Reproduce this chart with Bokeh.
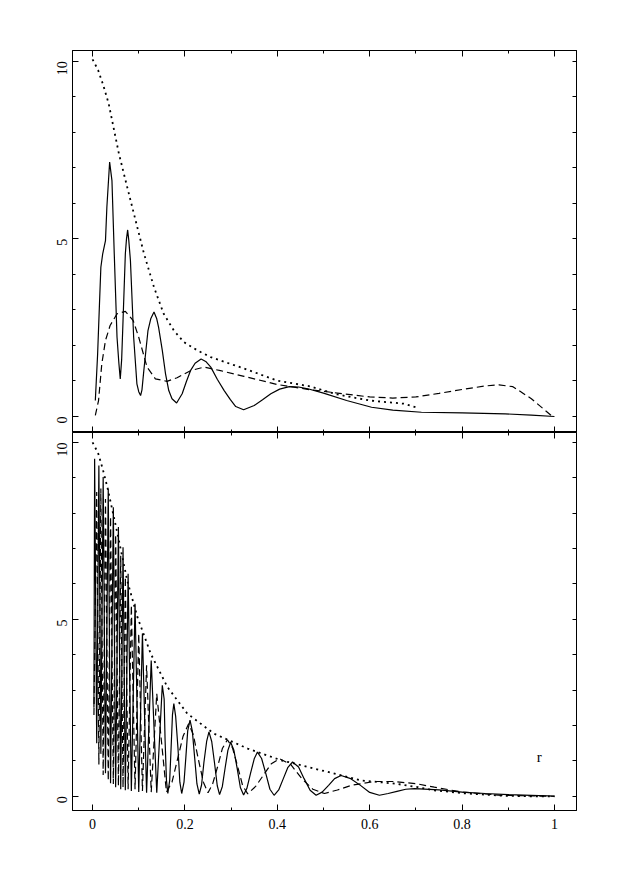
import math
from bokeh.plotting import figure
from bokeh.layouts import column
from bokeh.models import Range1d, LinearAxis, FixedTicker, Label
from bokeh.embed import file_html
from bokeh.resources import INLINE

# ---------------- data: top panel ----------------
top_solid_r = [0.006, 0.011, 0.015, 0.018, 0.022, 0.028, 0.031, 0.037, 0.042, 0.047,
               0.053, 0.057, 0.060, 0.063, 0.066, 0.071, 0.0735, 0.076, 0.0785, 0.082,
               0.089, 0.096, 0.100, 0.104, 0.107, 0.111, 0.120, 0.126, 0.133, 0.139,
               0.143, 0.151, 0.158, 0.165, 0.172, 0.182, 0.194, 0.203, 0.212, 0.222,
               0.235, 0.245, 0.256, 0.270, 0.285, 0.298, 0.310, 0.327, 0.350, 0.368,
               0.386, 0.405, 0.426, 0.446, 0.466, 0.500, 0.550, 0.604, 0.650, 0.712,
               0.800, 0.893, 0.950, 1.000]
top_solid_v = [0.45, 1.76, 3.17, 4.20, 4.58, 4.95, 5.89, 7.16, 6.64, 4.58,
               2.23, 1.50, 1.06, 1.60, 2.70, 4.58, 5.00, 5.25, 4.95, 4.39,
               2.23, 0.92, 0.70, 0.59, 0.75, 1.29, 2.42, 2.75, 2.94, 2.75,
               2.51, 1.86, 1.20, 0.73, 0.50, 0.38, 0.64, 0.98, 1.29, 1.50,
               1.62, 1.55, 1.39, 1.05, 0.73, 0.48, 0.28, 0.19, 0.31, 0.47,
               0.64, 0.77, 0.84, 0.83, 0.78, 0.66, 0.45, 0.26, 0.18, 0.12,
               0.10, 0.075, 0.04, 0.0]

top_dashed_r = [0.006, 0.013, 0.020, 0.028, 0.038, 0.053, 0.071, 0.088, 0.100, 0.118,
                0.136, 0.161, 0.183, 0.212, 0.241, 0.277, 0.328, 0.400, 0.473, 0.530,
                0.600, 0.650, 0.700, 0.750, 0.800, 0.850, 0.880, 0.910, 0.950, 0.993]
top_dashed_v = [0.03, 0.45, 1.48, 2.14, 2.56, 2.89, 2.96, 2.70, 2.23, 1.39,
                1.06, 0.99, 1.09, 1.29, 1.39, 1.29, 1.13, 0.90, 0.75, 0.66,
                0.55, 0.52, 0.55, 0.65, 0.76, 0.86, 0.89, 0.84, 0.50, 0.03]

top_dotted_r = [0.0, 0.012, 0.023, 0.035, 0.057, 0.078, 0.111, 0.133, 0.154, 0.176,
                0.198, 0.227, 0.256, 0.328, 0.400, 0.470, 0.530, 0.600, 0.674, 0.700]
top_dotted_v = [10.05, 9.75, 9.33, 8.80, 7.40, 6.30, 4.60, 3.64, 2.89, 2.42,
                2.09, 1.86, 1.67, 1.35, 1.01, 0.85, 0.62, 0.45, 0.36, 0.26]

# ---------------- data: bottom panel ----------------
bot_solid_r = [0.003, 0.0045, 0.009, 0.0137, 0.018, 0.023, 0.028, 0.034, 0.039, 0.045,
               0.050, 0.056, 0.061, 0.066, 0.071, 0.077, 0.084, 0.092, 0.100, 0.108,
               0.117, 0.127, 0.139, 0.151, 0.155, 0.157, 0.160, 0.163, 0.167, 0.170,
               0.173, 0.176, 0.180, 0.185, 0.189, 0.193, 0.198, 0.202, 0.206, 0.211,
               0.216, 0.221, 0.226, 0.231, 0.236, 0.241, 0.247, 0.252, 0.258, 0.264,
               0.270, 0.275, 0.281, 0.287, 0.293, 0.299, 0.306, 0.313, 0.320, 0.327,
               0.334, 0.342, 0.350, 0.357, 0.366, 0.375, 0.384, 0.393, 0.403, 0.413,
               0.423, 0.433, 0.446, 0.458, 0.471, 0.484, 0.497, 0.511, 0.524, 0.538,
               0.559, 0.580, 0.600, 0.621, 0.640, 0.659, 0.678, 0.697, 0.750, 0.800,
               0.850, 0.900, 0.950, 1.000]
bot_solid_v = [2.5, 9.54, 1.5, 9.35, 1.2, 9.02, 0.65, 8.69, 0.37, 8.17,
               0.26, 7.61, 0.2, 7.04, 0.17, 6.29, 0.15, 5.44, 0.12, 4.60,
               0.10, 3.84, 0.10, 3.14, 2.75, 1.6, 0.45, 0.08, 0.45, 1.35,
               2.3, 2.62, 2.25, 1.35, 0.40, 0.08, 0.40, 1.10, 1.85, 2.15,
               1.85, 1.10, 0.35, 0.06, 0.32, 0.95, 1.55, 1.82, 1.55, 0.95,
               0.30, 0.05, 0.28, 0.80, 1.30, 1.53, 1.30, 0.80, 0.25, 0.04,
               0.22, 0.65, 1.06, 1.25, 1.07, 0.65, 0.20, 0.03, 0.18, 0.50,
               0.82, 0.97, 0.83, 0.50, 0.17, 0.03, 0.12, 0.31, 0.50, 0.59,
               0.50, 0.31, 0.11, 0.03, 0.08, 0.14, 0.20, 0.22, 0.18, 0.12,
               0.08, 0.05, 0.03, 0.01]

bot_dashed_r = [0.003, 0.009, 0.0137, 0.018, 0.023, 0.028, 0.034, 0.039, 0.045, 0.050,
                0.056, 0.061, 0.066, 0.071, 0.077, 0.084, 0.092, 0.100, 0.108, 0.117,
                0.127, 0.139, 0.160, 0.172, 0.184, 0.196, 0.208, 0.218, 0.229, 0.240,
                0.250, 0.260, 0.271, 0.281, 0.292, 0.303, 0.314, 0.325, 0.336, 0.353,
                0.370, 0.387, 0.405, 0.429, 0.453, 0.477, 0.502, 0.530, 0.560, 0.610,
                0.650, 0.700, 0.740, 0.800, 0.885, 1.000]
bot_dashed_v = [2.3, 8.6, 0.9, 8.7, 0.6, 8.4, 0.45, 7.9, 0.35, 7.4,
                0.30, 6.8, 0.25, 6.2, 0.20, 5.4, 0.20, 4.6, 0.15, 3.7,
                0.12, 2.9, 0.12, 0.40, 1.05, 1.70, 2.05, 1.75, 1.05, 0.40,
                0.10, 0.35, 0.85, 1.35, 1.60, 1.37, 0.85, 0.30, 0.07, 0.28,
                0.60, 0.92, 1.06, 0.90, 0.50, 0.20, 0.08, 0.18, 0.31, 0.42,
                0.42, 0.36, 0.26, 0.12, 0.03, 0.0]

bot_dotted_r = [0.0, 0.012, 0.022, 0.032, 0.054, 0.075, 0.097, 0.126, 0.162, 0.205,
                0.263, 0.336, 0.408, 0.451, 0.509, 0.581, 0.654, 0.704, 0.740, 0.810,
                0.885, 0.950, 1.000]
bot_dotted_v = [10.0, 9.7, 9.25, 8.74, 7.42, 6.10, 5.07, 4.03, 3.09, 2.34,
                1.77, 1.35, 1.02, 0.88, 0.69, 0.45, 0.36, 0.26, 0.17, 0.08,
                0.02, 0.0, 0.0]

# ---------------- ticks ----------------
x_major = [0, 0.2, 0.4, 0.6, 0.8, 1]
x_labels = ["0", "0.2", "0.4", "0.6", "0.8", "1"]
x_minor = [0.1, 0.3, 0.5, 0.7, 0.9]
y_major = [0, 5, 10]
y_minor = [1, 2, 3, 4, 6, 7, 8, 9]
y_right = [0, 1, 2, 3, 4, 5, 6, 7, 8, 9, 10]

SERIF = "Liberation Serif"
XR = (-0.0434, 1.0477)


def base_fig(height, btop, bbot, yr):
    p = figure(width=612, height=height, x_range=Range1d(*XR), y_range=Range1d(*yr),
               output_backend="svg", toolbar_location=None,
               x_axis_location=None, y_axis_location=None,
               min_border_left=72, min_border_right=36,
               min_border_top=btop, min_border_bottom=bbot)
    p.grid.visible = False
    p.outline_line_color = "black"
    p.outline_line_width = 1
    p.background_fill_color = "white"
    p.border_fill_color = "white"
    return p


def hide_labels(ax):
    ax.major_label_text_color = None
    ax.major_label_text_font_size = "1px"
    ax.major_label_standoff = 0


def x_axis(labels):
    ax = LinearAxis(ticker=FixedTicker(ticks=x_major, minor_ticks=x_minor),
                    major_tick_in=6, major_tick_out=0, minor_tick_in=3, minor_tick_out=0,
                    axis_line_color="black", major_tick_line_color="black",
                    minor_tick_line_color="black")
    if labels:
        ax.major_label_overrides = dict(zip(x_major, x_labels))
        ax.major_label_text_font = SERIF
        ax.major_label_text_font_size = "14px"
        ax.major_label_text_color = "black"
        ax.major_label_standoff = 8
    else:
        hide_labels(ax)
    return ax


def y_axes(p):
    left = LinearAxis(ticker=FixedTicker(ticks=y_major, minor_ticks=y_minor),
                      major_tick_in=6, major_tick_out=0, minor_tick_in=3, minor_tick_out=0,
                      major_label_orientation=math.pi / 2,
                      major_label_text_font=SERIF, major_label_text_font_size="14px",
                      major_label_text_color="black", major_label_standoff=10,
                      axis_line_color="black")
    right = LinearAxis(ticker=FixedTicker(ticks=y_right, minor_ticks=[]),
                       major_tick_in=4, major_tick_out=0, minor_tick_in=0, minor_tick_out=0,
                       axis_line_color="black")
    hide_labels(right)
    p.add_layout(left, "left")
    p.add_layout(right, "right")


def draw(p, sr, sv, dr, dv, tr, tv):
    p.line(sr, sv, line_color="black", line_width=1.2)
    p.line(dr, dv, line_color="black", line_width=1.2, line_dash="7 4")
    p.line(tr, tv, line_color="black", line_width=1.8, line_dash="2 4")


top = base_fig(432, 50, 0, (-0.45, 10.3))
top.add_layout(x_axis(False), "above")
top.add_layout(x_axis(False), "below")
y_axes(top)
draw(top, top_solid_r, top_solid_v, top_dashed_r, top_dashed_v, top_dotted_r, top_dotted_v)

bot = base_fig(418, 0, 40, (-0.4, 10.28))
bot.add_layout(x_axis(False), "above")
bot.add_layout(x_axis(True), "below")
y_axes(bot)
draw(bot, bot_solid_r, bot_solid_v, bot_dashed_r, bot_dashed_v, bot_dotted_r, bot_dotted_v)
bot.add_layout(Label(x=0.967, y=1.1, text="r", text_font=SERIF, text_font_size="15px",
                     text_align="center", text_baseline="middle", text_color="black"))

layout = column(top, bot, spacing=0)
open("out.html", "w").write(file_html(layout, INLINE))
